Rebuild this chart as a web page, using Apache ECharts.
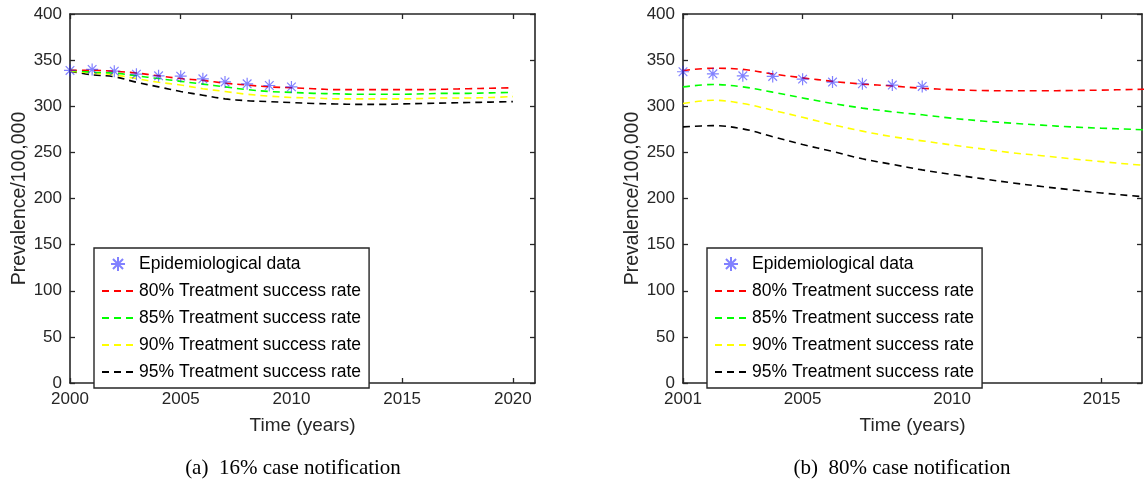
<!DOCTYPE html>
<html>
<head>
<meta charset="utf-8">
<script src="https://cdn.jsdelivr.net/npm/echarts@6/dist/echarts.min.js"></script>
<style>
  html, body { margin: 0; padding: 0; background: #ffffff; }
  #chart { width: 1145px; height: 484px; }
</style>
</head>
<body>
<div id="chart"></div>
<script>
// ---------- Data ----------
const yearsA = [2000, 2001, 2002, 2003, 2004, 2005, 2006, 2007, 2008, 2009, 2010, 2011, 2012, 2013, 2014, 2015, 2016, 2017, 2018, 2019, 2020];
const redA    = [339, 339, 338, 336, 333, 330, 328, 325, 323, 321, 320, 319, 318, 318, 318, 318, 318, 318.5, 319, 319.5, 320];
const greenA  = [339, 337, 336, 333, 330, 327, 324, 321, 318, 316, 315, 314, 313.5, 313, 313, 313, 313.5, 314, 314, 314.5, 315];
const yellowA = [338, 336, 334, 330, 326, 323, 319, 316, 313, 311, 309.5, 309, 308, 308, 308, 308, 308.5, 309, 309, 309.5, 310.5];
const blackA  = [338, 334, 332, 326, 321, 316, 312, 308, 306, 305, 304, 303, 302.5, 302, 302, 302.5, 303, 303.5, 304, 304.5, 305];
const dataYearsA = [2000, 2001, 2002, 2003, 2004, 2005, 2006, 2007, 2008, 2009, 2010];
const dataA   = [338.8, 339.9, 338, 334.8, 333, 332.6, 329.7, 326.4, 324.3, 322.5, 321];

const yearsB = [2001, 2002, 2003, 2004, 2005, 2006, 2007, 2008, 2009, 2010, 2011, 2012, 2013, 2014, 2015, 2016, 2017];
const redB    = [338.8, 341.2, 340, 335, 330.8, 327, 324, 322, 319.5, 318, 317, 316.8, 316.8, 317, 317.5, 318.2, 318.8];
const greenB  = [321, 323.6, 321, 315.3, 309, 303, 298, 294, 290.7, 287, 284, 281.6, 279.5, 277.6, 276.2, 275, 274];
const yellowB = [303, 306.5, 303, 295.7, 288, 280, 273, 267, 262.5, 258, 253.8, 249.6, 246.4, 243, 240, 237, 234.5];
const blackB  = [277.6, 279, 275.5, 267, 258.5, 251, 243, 237, 231, 226, 221.5, 217, 213, 209.4, 206, 203, 200.5];
const dataYearsB = [2001, 2002, 2003, 2004, 2005, 2006, 2007, 2008, 2009];
const dataB   = [337.4, 335.2, 333, 332.3, 329.4, 326.2, 324.4, 323, 321.5];

const xTicksA = [2000, 2005, 2010, 2015, 2020];
const xTicksB = [2001, 2005, 2010, 2015];
const yTicks  = [0, 50, 100, 150, 200, 250, 300, 350, 400];

const seriesNames = ['Epidemiological data', '80% Treatment success rate', '85% Treatment success rate', '90% Treatment success rate', '95% Treatment success rate'];
const lineColors  = ['#ff0000', '#00ff00', '#ffff00', '#000000'];
const captions = ['(a)  16% case notification', '(b)  80% case notification'];

// ---------- Styling helpers ----------
const AX = '#262626';
const FONT = 'Liberation Sans, Arial, sans-serif';
const STAR = 'path://M0,-5L0,5M-5,0L5,0M-3.6,-3.6L3.6,3.6M-3.6,3.6L3.6,-3.6';

function zip(xs, ys) { return xs.map((x, i) => [x, ys[i]]); }
const plain = v => String(v);

function xAxisPair(gridIndex, min, max, ticks) {
  const common = {
    type: 'value', gridIndex, min, max,
    axisLine: { show: true, onZero: false, lineStyle: { color: AX, width: 1.6 } },
    axisTick: { show: true, inside: true, length: 5, customValues: ticks, lineStyle: { color: AX, width: 1.3 } },
    splitLine: { show: false }
  };
  return [
    Object.assign({}, common, {
      position: 'bottom',
      axisLabel: { show: true, customValues: ticks, formatter: plain, color: AX, fontSize: 17, fontFamily: FONT, margin: 8 },
      name: 'Time (years)', nameLocation: 'middle', nameGap: 33,
      nameTextStyle: { color: AX, fontSize: 19, fontFamily: FONT }
    }),
    Object.assign({}, common, { position: 'top', axisLabel: { show: false } })
  ];
}

function yAxisPair(gridIndex) {
  const common = {
    type: 'value', gridIndex, min: 0, max: 400,
    axisLine: { show: true, onZero: false, lineStyle: { color: AX, width: 1.6 } },
    axisTick: { show: true, inside: true, length: 5, customValues: yTicks, lineStyle: { color: AX, width: 1.3 } },
    splitLine: { show: false }
  };
  return [
    Object.assign({}, common, {
      position: 'left',
      axisLabel: { show: true, customValues: yTicks, formatter: plain, color: AX, fontSize: 17, fontFamily: FONT, margin: 8 },
      name: 'Prevalence/100,000', nameLocation: 'middle', nameGap: 36,
      nameTextStyle: { color: AX, fontSize: 19.5, fontFamily: FONT }
    }),
    Object.assign({}, common, { position: 'right', axisLabel: { show: false } })
  ];
}

function panelSeries(axisIdx, years, lines, dYears, dVals) {
  const out = [{
    name: seriesNames[0], type: 'scatter', xAxisIndex: axisIdx, yAxisIndex: axisIdx,
    data: zip(dYears, dVals), symbol: STAR, symbolSize: 12, z: 5,
    itemStyle: { color: 'rgba(40,40,255,0.55)', borderColor: 'rgba(30,30,255,0.7)', borderWidth: 1.2 }
  }];
  lines.forEach((vals, i) => {
    out.push({
      name: seriesNames[i + 1], type: 'line', xAxisIndex: axisIdx, yAxisIndex: axisIdx,
      data: zip(years, vals), showSymbol: false, symbol: 'none', smooth: 0.35, clip: true,
      lineStyle: { color: lineColors[i], width: 1.6, type: [7, 5] },
      itemStyle: { color: lineColors[i] }, z: 3 - i * 0.1
    });
  });
  return out;
}

function legendAt(left) {
  return {
    orient: 'vertical', left, top: 248,
    data: seriesNames.map((n, i) => i === 0 ? { name: n } : { name: n, itemStyle: { opacity: 0 } }),
    itemWidth: 32, itemHeight: 14, itemGap: 9,
    padding: [7, 8, 7, 7],
    borderColor: AX, borderWidth: 1.4, backgroundColor: '#ffffff',
    selectedMode: false,
    textStyle: { color: '#000000', fontSize: 17.5, fontFamily: FONT, lineHeight: 14, padding: [0, 0, 0, 0] }
  };
}

const xa = xAxisPair(0, 2000, 2021, xTicksA);
const xb = xAxisPair(1, 2001, 2016.35, xTicksB);
const ya = yAxisPair(0);
const yb = yAxisPair(1);

const option = {
  backgroundColor: '#ffffff',
  animation: false,
  grid: [
    { left: 70, top: 14, width: 465, height: 369, containLabel: false },
    { left: 683, top: 14, width: 459, height: 369, containLabel: false }
  ],
  xAxis: [xa[0], xa[1], xb[0], xb[1]],
  yAxis: [ya[0], ya[1], yb[0], yb[1]],
  legend: [legendAt(94), legendAt(707)],
  title: [
    { text: captions[0], left: 288, top: 453, textAlign: 'center',
      textStyle: { fontFamily: 'Liberation Serif, Times New Roman, serif', fontWeight: 'normal', fontSize: 21, color: '#000' } },
    { text: captions[1], left: 897, top: 453, textAlign: 'center',
      textStyle: { fontFamily: 'Liberation Serif, Times New Roman, serif', fontWeight: 'normal', fontSize: 21, color: '#000' } }
  ],
  series: [].concat(
    panelSeries(0, yearsA, [redA, greenA, yellowA, blackA], dataYearsA, dataA),
    panelSeries(2, yearsB, [redB, greenB, yellowB, blackB], dataYearsB, dataB)
  )
};

const chart = echarts.init(document.getElementById('chart'), null, { renderer: 'canvas' });
chart.setOption(option);
</script>
</body>
</html>
